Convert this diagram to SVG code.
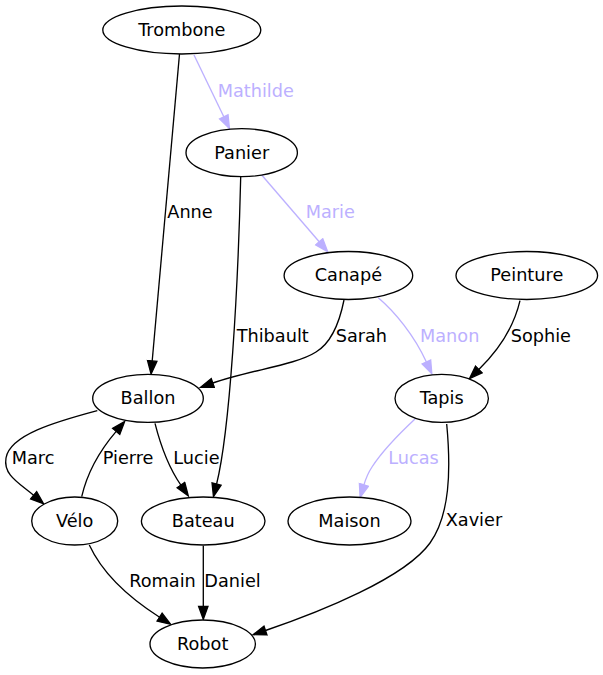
<svg xmlns="http://www.w3.org/2000/svg" width="603" height="675" viewBox="0 0 603 675">
<style>
.node ellipse{fill:#ffffff;stroke:#000000;stroke-width:1.33}
.node text{font-family:"DejaVu Sans",sans-serif;font-size:17.7px;text-anchor:middle;fill:#000000}
.edge{fill:none;stroke-width:1.33}
.blk{stroke:#000000}
.lav{stroke:#bcb0ff}
.lbl{font-family:"DejaVu Sans",sans-serif;font-size:17.7px}
.lblk{fill:#000000}
.llav{fill:#bcb0ff}
</style>
<defs>
<marker id="ab" markerUnits="userSpaceOnUse" markerWidth="16" markerHeight="12" viewBox="-1 -1 16 12" refX="0" refY="4.7" orient="auto"><path d="M0,0 L13,4.7 L0,9.4 z" fill="#000000" stroke="#000000" stroke-width="1.33"/></marker>
<marker id="al" markerUnits="userSpaceOnUse" markerWidth="16" markerHeight="12" viewBox="-1 -1 16 12" refX="0" refY="4.7" orient="auto"><path d="M0,0 L13,4.7 L0,9.4 z" fill="#bcb0ff" stroke="#bcb0ff" stroke-width="1.33"/></marker>
</defs>
<rect width="603" height="675" fill="#ffffff"/>
<g id="edges">
<path class="edge blk" marker-end="url(#ab)" d="M179.5,54 L152.2,361"/>
<text class="lbl lblk" x="167.3" y="218.3">Anne</text>
<path class="edge lav" marker-end="url(#al)" d="M194,55 L223.8,116.8"/>
<text class="lbl llav" x="217.7" y="96.7">Mathilde</text>
<path class="edge blk" marker-end="url(#ab)" d="M240.7,177 C238,290 230,430 216.6,484"/>
<text class="lbl lblk" x="236.7" y="341.5">Thibault</text>
<path class="edge lav" marker-end="url(#al)" d="M261.7,175 L319.2,241.8"/>
<text class="lbl llav" x="305.7" y="218.3">Marie</text>
<path class="edge blk" marker-end="url(#ab)" d="M344,300 C339,325 331,343 316,352 C296,365 250,370 212.8,383"/>
<text class="lbl lblk" x="335.7" y="341.5">Sarah</text>
<path class="edge lav" marker-end="url(#al)" d="M378.3,297.7 C395,312 414,335 426.4,362"/>
<text class="lbl llav" x="420" y="341.5">Manon</text>
<path class="edge blk" marker-end="url(#ab)" d="M520,300.7 C515,322 504,345 478.8,369.5"/>
<text class="lbl lblk" x="510.7" y="341.5">Sophie</text>
<path class="edge lav" marker-end="url(#al)" d="M415,419 C400,433 383,450 372,467 C368,473 366,478 363.9,484.9"/>
<text class="lbl llav" x="388.3" y="464.3">Lucas</text>
<path class="edge blk" marker-end="url(#ab)" d="M446.7,424 C451,470 450,515 430,543 C405,578 320,612 265.5,630.5"/>
<text class="lbl lblk" x="445.7" y="526">Xavier</text>
<path class="edge blk" marker-end="url(#ab)" d="M97.3,410.7 C55,422 10,435 6,458 C3,475 19,483 33.6,495.3"/>
<text class="lbl lblk" x="11.7" y="464.3">Marc</text>
<path class="edge blk" marker-end="url(#ab)" d="M81.7,496.7 C86,478 96,455 116.2,431.4"/>
<text class="lbl lblk" x="102.7" y="464.3">Pierre</text>
<path class="edge blk" marker-end="url(#ab)" d="M155,423.3 C160,443 167,465 180.9,485.1"/>
<text class="lbl lblk" x="173.3" y="464.3">Lucie</text>
<path class="edge blk" marker-end="url(#ab)" d="M89.3,545 C100,568 120,592 159.6,617.2"/>
<text class="lbl lblk" x="129.3" y="586.5">Romain</text>
<path class="edge blk" marker-end="url(#ab)" d="M203.3,545.7 L203.3,606.3"/>
<text class="lbl lblk" x="204.3" y="586.5">Daniel</text>
</g>
<g id="Trombone" class="node"><ellipse cx="181.8" cy="30" rx="79" ry="24"/><text x="181.8" y="35.8">Trombone</text></g>
<g id="Panier" class="node"><ellipse cx="241.7" cy="152.7" rx="55.7" ry="24"/><text x="241.7" y="158.5">Panier</text></g>
<g id="Canape" class="node"><ellipse cx="348.4" cy="275.5" rx="64.3" ry="24"/><text x="348.4" y="281.3">Canapé</text></g>
<g id="Peinture" class="node"><ellipse cx="526.8" cy="275.5" rx="70.8" ry="24"/><text x="526.8" y="281.3">Peinture</text></g>
<g id="Ballon" class="node"><ellipse cx="148" cy="398.4" rx="55.3" ry="24"/><text x="148" y="404.2">Ballon</text></g>
<g id="Tapis" class="node"><ellipse cx="441.7" cy="398.4" rx="46.7" ry="24"/><text x="441.7" y="404.2">Tapis</text></g>
<g id="Velo" class="node"><ellipse cx="74.7" cy="521" rx="43" ry="24"/><text x="74.7" y="526.8">Vélo</text></g>
<g id="Bateau" class="node"><ellipse cx="203.2" cy="521" rx="61.8" ry="24"/><text x="203.2" y="526.8">Bateau</text></g>
<g id="Maison" class="node"><ellipse cx="349.5" cy="521" rx="61.5" ry="24"/><text x="349.5" y="526.8">Maison</text></g>
<g id="Robot" class="node"><ellipse cx="202.7" cy="644" rx="52.7" ry="24"/><text x="202.7" y="649.8">Robot</text></g>
</svg>
